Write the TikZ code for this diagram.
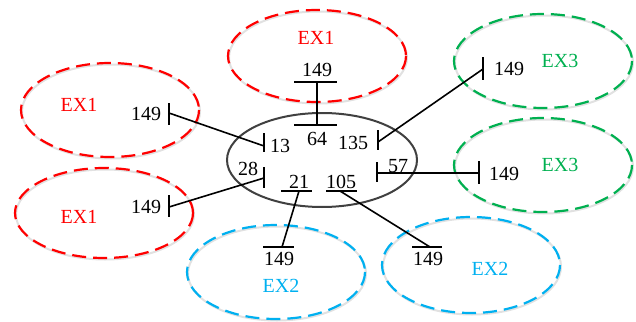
\documentclass[tikz,border=0pt]{standalone}
\usepackage{fontspec}
\setmainfont{Liberation Serif}
\definecolor{exred}{RGB}{255,0,0}
\definecolor{exgreen}{RGB}{0,176,80}
\definecolor{exblue}{RGB}{0,176,240}
\definecolor{ringgray}{RGB}{64,64,64}
\definecolor{shadowgray}{RGB}{225,225,225}
\begin{document}
\begin{tikzpicture}[x=1pt,y=-1pt,
  area/.style={line width=2.2pt,dash pattern=on 14pt off 7pt},
  areashadow/.style={draw=shadowgray,line width=2pt},
  ring/.style={draw=ringgray,line width=2pt},
  busbar/.style={line width=2.2pt,black},
  link/.style={line width=1.6pt,black},
  lbl/.style={font=\fontsize{20}{22}\selectfont,anchor=base,inner sep=0pt},
  exlbl/.style={lbl}]
\useasboundingbox (0,0) rectangle (636,321);

% soft shadow under the dashed area outlines
\foreach \cx/\cy/\ry in {317/56/46,110/110/47,104/213/45,543/61/47,543/165/47,276/272/47,471/265/48}
  \draw[areashadow] (\cx+1,\cy+1.5) ellipse [x radius=89,y radius=\ry];

% external areas
\draw[area,exred]   (317,56)  ellipse [x radius=89,y radius=46];
\draw[area,exred]   (110,110) ellipse [x radius=89,y radius=47];
\draw[area,exred]   (104,213) ellipse [x radius=89,y radius=45];
\draw[area,exgreen] (543,61)  ellipse [x radius=89,y radius=47];
\draw[area,exgreen] (543,165) ellipse [x radius=89,y radius=47];
\draw[area,exblue]  (276,272) ellipse [x radius=89,y radius=47];
\draw[area,exblue]  (471,265) ellipse [x radius=89,y radius=48];

% central system
\draw[ring] (322,160) ellipse [x radius=95,y radius=47];

% area labels
\node[exlbl,text=exred]   (ex1a) at (316,45)  {EX1};
\node[exlbl,text=exred]   (ex1b) at (79,111)  {EX1};
\node[exlbl,text=exred]   (ex1c) at (79,223)  {EX1};
\node[exlbl,text=exgreen] (ex3a) at (560,67)  {EX3};
\node[exlbl,text=exgreen] (ex3b) at (560,171) {EX3};
\node[exlbl,text=exblue]  (ex2a) at (281,292) {EX2};
\node[exlbl,text=exblue]  (ex2b) at (490,275) {EX2};

% bus bars: central system
\draw[busbar] (294,125) -- (337,125);   % 64
\draw[busbar] (264,133) -- (264,152);   % 13
\draw[busbar] (378,130) -- (378,150);   % 135
\draw[busbar] (264,167) -- (264,188);   % 28
\draw[busbar] (377,162) -- (377,182);   % 57
\draw[busbar] (281,191) -- (312,191);   % 21
\draw[busbar] (326,191) -- (357,191);   % 105

% bus bars: boundary buses 149
\draw[busbar] (294,82)  -- (337,82);
\draw[busbar] (169,103) -- (169,125);
\draw[busbar] (169,195) -- (169,217);
\draw[busbar] (483,57)  -- (483,80);
\draw[busbar] (479,161) -- (479,184);
\draw[busbar] (263,247) -- (294,247);
\draw[busbar] (412,247) -- (442,247);

% connection points
\coordinate (b64)  at (317,125);
\coordinate (b13)  at (264,146);
\coordinate (b135) at (378,142);
\coordinate (b28)  at (264,178);
\coordinate (b57)  at (377,173);
\coordinate (b21)  at (299,191);
\coordinate (b105) at (340,191);
\coordinate (t1)   at (317,82);
\coordinate (t2)   at (169,113);
\coordinate (t3)   at (169,207);
\coordinate (t4)   at (483,69);
\coordinate (t5)   at (479,173);
\coordinate (t6)   at (282,247);
\coordinate (t7)   at (430,247);

% tie lines
\draw[link] (t1) -- (b64);
\draw[link] (t2) -- (b13);
\draw[link] (t3) -- (b28);
\draw[link] (t4) -- (b135);
\draw[link] (t5) -- (b57);
\draw[link] (t6) -- (b21);
\draw[link] (t7) -- (b105);

% bus numbers
\node[lbl] (n64)  at (317,145) {64};
\node[lbl] (n13)  at (280,152) {13};
\node[lbl] (n135) at (353,149) {135};
\node[lbl] (n28)  at (248,175) {28};
\node[lbl] (n57)  at (398,172) {57};
\node[lbl] (n21)  at (299,188) {21};
\node[lbl] (n105) at (341,188) {105};
\node[lbl] (m1) at (317,76)  {149};
\node[lbl] (m2) at (146,120) {149};
\node[lbl] (m3) at (146,213) {149};
\node[lbl] (m4) at (509,75)  {149};
\node[lbl] (m5) at (504,180) {149};
\node[lbl] (m6) at (279,265) {149};
\node[lbl] (m7) at (428,265) {149};
\end{tikzpicture}
\end{document}
